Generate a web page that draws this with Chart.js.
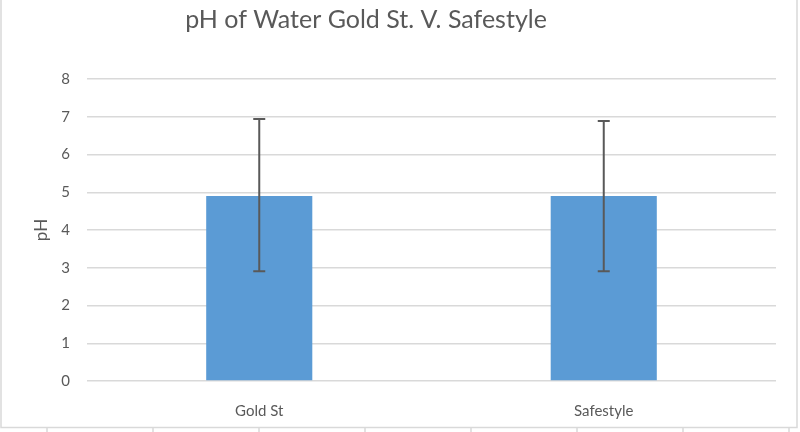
<!DOCTYPE html>
<html>
<head>
<meta charset="utf-8">
<script src="https://cdn.jsdelivr.net/npm/chart.js@4"></script>
<style>
  html, body { margin: 0; padding: 0; background: #fff; }
  #wrap { position: relative; width: 800px; height: 432px; }
</style>
</head>
<body>
<div id="wrap"><canvas id="phChart" width="800" height="432"></canvas></div>
<script>
const categories = ['Gold St', 'Safestyle'];
const phMeans = [4.9, 4.9];
const errLow = [2.91, 2.91];
const errHigh = [6.94, 6.89];
const yTicks = [0, 1, 2, 3, 4, 5, 6, 7, 8];

const textColor = '#595959';
const gridColor = '#d9d9d9';

// error bars drawn from the arrays through the y scale
const errorBars = {
  id: 'errorBars',
  afterDatasetsDraw(chart) {
    const ctx = chart.ctx;
    const y = chart.scales.y;
    const meta = chart.getDatasetMeta(0);
    ctx.save();
    ctx.strokeStyle = '#595959';
    ctx.lineWidth = 2;
    meta.data.forEach((bar, i) => {
      const top = y.getPixelForValue(errHigh[i]);
      const bot = y.getPixelForValue(errLow[i]);
      ctx.beginPath();
      ctx.moveTo(bar.x, top);
      ctx.lineTo(bar.x, bot);
      ctx.moveTo(bar.x - 6, top);
      ctx.lineTo(bar.x + 6, top);
      ctx.moveTo(bar.x - 6, bot);
      ctx.lineTo(bar.x + 6, bot);
      ctx.stroke();
    });
    ctx.restore();
  }
};

// title, chart frame and the sheet column lines below it
const decor = {
  id: 'decor',
  afterDraw(chart) {
    const ctx = chart.ctx;
    ctx.save();
    ctx.fillStyle = textColor;
    ctx.font = '25px Lato';
    ctx.textAlign = 'center';
    ctx.textBaseline = 'middle';
    ctx.fillText('pH of Water Gold St. V. Safestyle', 366, 20);

    ctx.strokeStyle = gridColor;
    ctx.lineWidth = 1.5;
    ctx.beginPath();
    ctx.moveTo(1, 0);
    ctx.lineTo(1, 427.5);
    ctx.lineTo(797, 427.5);
    ctx.lineTo(797, 0);
    [47, 153, 259, 365, 471, 577, 683, 789].forEach(x => {
      ctx.moveTo(x, 428);
      ctx.lineTo(x, 432);
    });
    ctx.stroke();
    ctx.restore();
  }
};

new Chart(document.getElementById('phChart'), {
  type: 'bar',
  data: {
    labels: categories,
    datasets: [{
      label: 'pH',
      data: phMeans,
      backgroundColor: '#5b9bd5',
      borderWidth: 0,
      categoryPercentage: 1,
      barPercentage: 0.308
    }]
  },
  options: {
    responsive: false,
    animation: false,
    layout: { padding: { top: 79, right: 24, bottom: 0, left: 0 } },
    plugins: {
      legend: { display: false },
      tooltip: { enabled: false }
    },
    scales: {
      x: {
        grid: { display: false },
        border: { display: false },
        ticks: {
          color: textColor,
          font: { family: 'Lato', size: 15 },
          padding: 13
        },
        afterFit(scale) { scale.height = 51; }
      },
      y: {
        min: 0,
        max: 8,
        afterBuildTicks(scale) { scale.ticks = yTicks.map(v => ({ value: v })); },
        grid: { color: gridColor, lineWidth: 1.5, drawTicks: false },
        border: { display: false },
        ticks: {
          color: textColor,
          font: { family: 'Lato', size: 15 },
          padding: 17
        },
        title: {
          display: true,
          text: 'pH',
          color: textColor,
          font: { family: 'Lato', size: 17 },
          padding: { top: 31, bottom: 0 }
        },
        afterFit(scale) { scale.width = 87; }
      }
    }
  },
  plugins: [errorBars, decor]
});
</script>
</body>
</html>
